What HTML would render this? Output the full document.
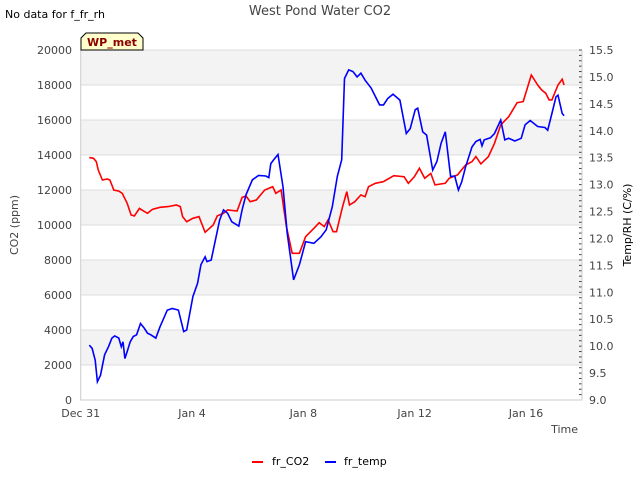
<!DOCTYPE html>
<html><head><meta charset="utf-8"><style>
body{margin:0;background:#fff;font-family:"Liberation Sans","DejaVu Sans",sans-serif;}
svg text{font-family:"DejaVu Sans","Liberation Sans",sans-serif;}
</style></head><body>
<svg id="chart" width="640" height="480" xmlns="http://www.w3.org/2000/svg">
<rect width="640" height="480" fill="#fff"/>
<text x="5" y="18" font-size="11" fill="#000">No data for f_fr_rh</text>
<text x="320" y="15" font-size="13" fill="#444" text-anchor="middle">West Pond Water CO2</text>
<g id="bands"></g>
<g id="axes"></g>
<g id="series"></g>
<g>
<path d="M81,50 L81,38 L86,33 L138,33 L143,38 L143,50 Z" fill="#ffffcc" stroke="#000" stroke-width="1"/>
<text x="112" y="46" font-size="11" font-weight="bold" fill="#8b0000" text-anchor="middle">WP_met</text>
</g>
<text transform="translate(18,225) rotate(-90)" font-size="11" fill="#444" text-anchor="middle">CO2 (ppm)</text>
<text transform="translate(631,225) rotate(-90)" font-size="11" fill="#000" text-anchor="middle">Temp/RH (C/%)</text>
<text x="578" y="433" font-size="11" fill="#444" text-anchor="end">Time</text>
<g>
<g><line x1="252" y1="462" x2="263" y2="462" stroke="#f00" stroke-width="2"/><text x="272" y="465" font-size="11" fill="#000">fr_CO2</text></g>
<g><line x1="325" y1="462" x2="336" y2="462" stroke="#00f" stroke-width="2"/><text x="344" y="465" font-size="11" fill="#000">fr_temp</text></g>
</g>
</svg>
<script>
const co2Days=[0.31,0.46,0.56,0.63,0.78,0.96,1.05,1.19,1.37,1.49,1.67,1.81,1.93,2.11,2.23,2.40,2.58,2.85,3.14,3.44,3.58,3.66,3.81,4.03,4.25,4.47,4.76,4.91,5.13,5.28,5.62,5.80,5.94,6.09,6.31,6.61,6.90,7.01,7.20,7.39,7.60,7.86,8.08,8.38,8.57,8.75,8.89,9.07,9.19,9.41,9.56,9.66,9.85,10.07,10.22,10.34,10.59,10.88,11.25,11.62,11.77,11.99,12.17,12.36,12.58,12.73,13.10,13.24,13.54,13.83,14.06,14.20,14.38,14.65,14.87,15.09,15.38,15.68,15.90,16.19,16.42,16.56,16.71,16.83,16.93,17.15,17.30,17.37];
const co2Values=[13850,13810,13620,13150,12570,12630,12570,12000,11940,11810,11240,10570,10520,10950,10820,10670,10900,11010,11050,11140,11050,10480,10190,10380,10480,9580,10000,10520,10670,10860,10800,11580,11660,11330,11430,12000,12190,11810,12000,9910,8380,8380,9330,9810,10130,9910,10290,9620,9620,11050,11910,11140,11330,11720,11620,12190,12380,12480,12820,12760,12380,12760,13240,12670,12950,12290,12380,12670,12860,13430,13620,13910,13490,13910,14670,15720,16190,16990,17050,18570,18000,17720,17530,17150,17150,18000,18330,18000];
const tempDays=[0.31,0.41,0.52,0.60,0.71,0.86,1.00,1.12,1.22,1.37,1.46,1.52,1.59,1.67,1.78,1.89,2.01,2.15,2.29,2.40,2.52,2.70,2.85,3.11,3.29,3.51,3.70,3.81,4.03,4.20,4.32,4.47,4.54,4.69,4.84,4.99,5.13,5.28,5.43,5.68,5.80,5.94,6.17,6.39,6.65,6.76,6.83,6.95,7.09,7.27,7.42,7.65,7.86,8.08,8.38,8.63,8.82,9.04,9.22,9.38,9.48,9.63,9.78,9.93,10.07,10.22,10.44,10.74,10.88,11.03,11.22,11.47,11.70,11.84,12.02,12.11,12.29,12.43,12.65,12.80,12.95,13.10,13.29,13.44,13.57,13.69,13.83,14.06,14.20,14.35,14.42,14.50,14.72,14.87,15.09,15.24,15.38,15.60,15.83,15.97,16.15,16.42,16.68,16.78,16.93,17.08,17.15,17.30,17.37];
const tempValues=[10.02,9.96,9.74,9.34,9.46,9.84,9.99,10.15,10.19,10.15,9.99,10.08,9.77,9.90,10.08,10.18,10.21,10.42,10.33,10.24,10.21,10.15,10.36,10.67,10.70,10.67,10.27,10.30,10.92,11.17,11.51,11.66,11.57,11.60,11.97,12.34,12.53,12.47,12.31,12.23,12.53,12.81,13.09,13.17,13.16,13.13,13.39,13.47,13.56,12.96,12.10,11.23,11.51,11.94,11.91,12.03,12.16,12.59,13.15,13.46,14.97,15.13,15.10,15.00,15.07,14.94,14.79,14.48,14.48,14.60,14.68,14.57,13.95,14.04,14.39,14.42,13.98,13.92,13.27,13.43,13.77,13.98,13.15,13.16,12.90,13.05,13.33,13.70,13.80,13.84,13.72,13.83,13.87,13.95,14.20,13.83,13.86,13.81,13.86,14.11,14.19,14.08,14.06,14.01,14.32,14.63,14.66,14.32,14.28];
const leftTicks=[0,2000,4000,6000,8000,10000,12000,14000,16000,18000,20000];
const rightTicks=[9.0,9.5,10.0,10.5,11.0,11.5,12.0,12.5,13.0,13.5,14.0,14.5,15.0,15.5];
const xTickDays=[0,4,8,12,16];
const xTickLabels=["Dec 31","Jan 4","Jan 8","Jan 12","Jan 16"];

const X0=80.7,X1=582,Y0=400,Y1=50;
const xs=d=>X0+d*27.83;
const yL=v=>Y0-(v/20000)*(Y0-Y1);
const yR=v=>Y0-((v-9)/6.5)*(Y0-Y1);
const NS="http://www.w3.org/2000/svg";
function mk(tag,attrs,parent){const e=document.createElementNS(NS,tag);for(const k in attrs)e.setAttribute(k,attrs[k]);parent.appendChild(e);return e;}
const bands=document.getElementById('bands'),axes=document.getElementById('axes'),series=document.getElementById('series');
for(let i=0;i<leftTicks.length-1;i++){
  if(i%2===1){const r=mk('rect',{x:X0,y:yL(leftTicks[i+1]),width:X1-X0,height:yL(leftTicks[i])-yL(leftTicks[i+1]),fill:'#f3f3f3'},bands);
  
  }
}
leftTicks.forEach(v=>{
  const l=mk('line',{x1:X0,x2:X1,y1:yL(v),y2:yL(v),stroke:'#dcdcdc','stroke-width':1},bands);
  
  
  const t=mk('text',{x:72,y:yL(v)+4,'font-size':11,fill:'#444','text-anchor':'end'},axes);
  
  
  t.textContent=v;
});
rightTicks.forEach(v=>{
  const t=mk('text',{x:589,y:yR(v)+4,'font-size':11,fill:'#444'},axes);
  
  
  t.textContent=v.toFixed(1);
});
for(let v=9;v<=15.5001;v+=0.1){
  const m=mk('line',{x1:X1-3,x2:X1,y1:yR(v),y2:yR(v),stroke:'#444','stroke-width':1},axes);
  
  
}
const ax=mk('path',{d:`M${X0},${Y1} L${X0},${Y0} L${X1},${Y0} L${X1},${Y1}`,fill:'none',stroke:'#ccc','stroke-width':1},axes);


xTickDays.forEach((d,i)=>{
  const t=mk('text',{x:xs(d),y:417,'font-size':11,fill:'#444','text-anchor':'middle'},axes);
  
  
  t.textContent=xTickLabels[i];
});
const pc=mk('polyline',{points:co2Days.map((d,i)=>xs(d).toFixed(1)+','+yL(co2Values[i]).toFixed(1)).join(' '),fill:'none',stroke:'#f00','stroke-width':1.6},series);


const pt=mk('polyline',{points:tempDays.map((d,i)=>xs(d).toFixed(1)+','+yR(tempValues[i]).toFixed(1)).join(' '),fill:'none',stroke:'#00f','stroke-width':1.6},series);


</script>
</body></html>
